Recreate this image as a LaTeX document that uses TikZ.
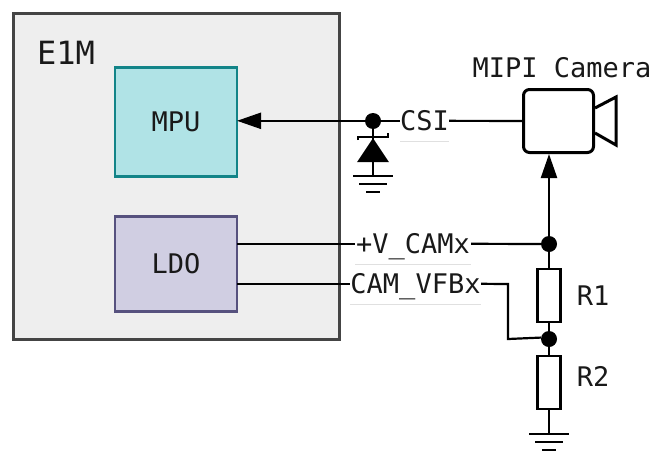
\documentclass[tikz,border=0pt]{standalone}
\usepackage{fontspec}
\setmonofont{DejaVu Sans Mono}
\usepackage{xcolor}
\usepackage{tikz}
\usetikzlibrary{
  arrows.meta,
  positioning,
  calc
}
\definecolor{socfill}{HTML}{EEEEEE}
\definecolor{socline}{HTML}{444444}
\definecolor{mpufill}{HTML}{B0E3E6}
\definecolor{mpuline}{HTML}{128488}
\definecolor{ldofill}{HTML}{D0CEE2}
\definecolor{ldoline}{HTML}{56517E}
\tikzset{
  txt/.style={font=\ttfamily\fontsize{27}{27}\selectfont, inner sep=0pt, text=black!90},
  block/.style={draw, line width=2.5pt, minimum width=122pt, outer sep=0pt, txt},
  netlabel/.style={txt, minimum height=42pt, text depth=0pt,
    path picture={\draw[black!12, line width=2pt] (path picture bounding box.south west) -- (path picture bounding box.south east);}},
  dot/.style={circle, fill=black, inner sep=0pt, minimum size=16pt},
  res/.style={draw, line width=2.5pt, minimum width=23pt, minimum height=53pt, inner sep=0pt},
  wire/.style={line width=2.2pt},
  gnd/.pic={
    \draw[wire] (-20,0) -- (20,0);
    \draw[wire] (-14,8) -- (14,8);
    \draw[wire] (-7,16) -- (7,16);
  }
}
\begin{document}
\begin{tikzpicture}[x=1pt,y=-1pt,>={Triangle[length=24pt,width=16pt]}]
  \useasboundingbox (0,0) rectangle (652,450);
  % chip
  \node[draw=socline, fill=socfill, line width=3pt, minimum width=326pt, minimum height=326pt, inner sep=0pt] (soc) at (176,176) {};
  \node[txt, font=\ttfamily\fontsize{32}{32}\selectfont, anchor=west] (socname) at (37,53) {E1M};
  \node[block, draw=mpuline, fill=mpufill, minimum height=109pt] (mpu) at (176,122) {MPU};
  \node[block, draw=ldoline, fill=ldofill, minimum height=95pt, below=40pt of mpu] (ldo) {LDO};

  % camera
  \node[draw, line width=3pt, rounded corners=6pt, minimum width=70pt, minimum height=63pt, inner sep=0pt] (cam) at (558.5,121) {};
  \node[txt, above=10pt of cam, xshift=3.5pt] (camname) {MIPI Camera};
  \draw[line width=3pt, line join=miter] ($(cam.east)+(0,-13)$) -- ++(21,-11) -- ++(0,48) -- ++(-21,-12);

  % csi
  \node[netlabel, minimum width=49pt, anchor=south] (csi) at (424.5,142) {CSI};
  \node[dot] (csidot) at (373,121) {};
  \coordinate[below=33pt of csidot] (tvsbase);
  \draw[wire] (cam) -- (csi);
  \draw[wire,->] (csi) -- (csi -| mpu.east);
  \fill ($(tvsbase)+(-16,0)$) -- ($(tvsbase)+(16,0)$) -- ($(tvsbase)+(0,-24)$) -- cycle;
  \draw[wire] ($(tvsbase)+(-15,-22)$) -- ++(0,-3) -- ++(30,0) -- ++(0,-4);
  \draw[wire] (csidot) -- (tvsbase) -- ++(0,14) coordinate (tvsgnd);
  \pic at (tvsgnd) {gnd};

  % divider
  \node[dot] (dota) at (549,244) {};
  \node[res, below=15.5pt of dota] (rone) {};
  \node[dot] (dotb) at (549,339) {};
  \node[res, below=7.5pt of dotb] (rtwo) {};
  \node[txt, right=15pt of rone] (ronename) {R1};
  \node[txt, right=15pt of rtwo, yshift=5.5pt] (rtwoname) {R2};
  \coordinate[below=24pt of rtwo] (divgnd);
  \pic at (divgnd) {gnd};
  \draw[wire] (dota) -- (rone) -- (dotb) -- (rtwo) -- (divgnd);
  \draw[wire,->] (dota) -- (dota |- cam.south);

  % ldo nets
  \node[netlabel, minimum width=116pt, anchor=south] (vcam) at (413,265) {+V\_CAMx};
  \node[netlabel, minimum width=131pt, anchor=south] (vfb) at (415.5,305) {CAM\_VFBx};
  \draw[wire] (ldo.east |- vcam.west) -- (vcam.west);
  \draw[wire] (vcam.east) -- (dota);
  \draw[wire] (ldo.east |- vfb.west) -- (vfb.west);
  \draw[wire] (vfb.east) -- (508,284) -- (508,339) -- (dotb.170);
\end{tikzpicture}
\end{document}
